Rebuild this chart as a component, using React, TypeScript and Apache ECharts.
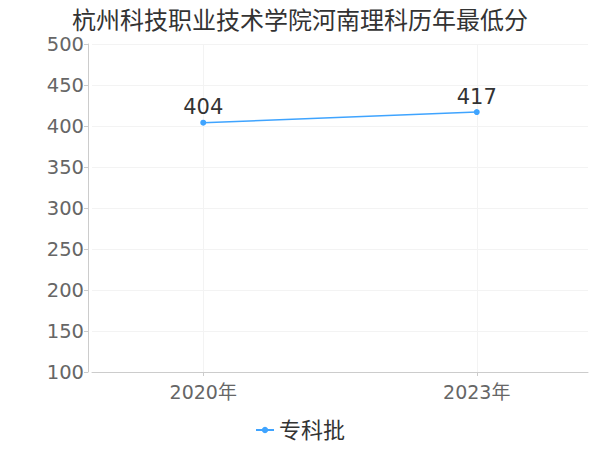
import React, { useEffect, useRef } from "react";
import * as echarts from "echarts";

const titleText = "杭州科技职业技术学院河南理科历年最低分";
const years = [2020, 2023];
const seriesName = "专科批";
const scores = [404, 417];

export default function App() {
  const ref = useRef<HTMLDivElement>(null);
  useEffect(() => {
    if (!ref.current) return;
    const chart = echarts.init(ref.current, undefined, { renderer: "svg" });
    const font = "'DejaVu Sans', 'Noto Sans CJK SC', sans-serif";
    chart.setOption({
      animation: false,
      textStyle: { fontFamily: font },
      title: {
        text: titleText,
        left: "center",
        top: 4,
        textStyle: { fontSize: 24, fontWeight: "normal", color: "#333", fontFamily: font },
      },
      legend: {
        bottom: 4,
        left: "center",
        itemWidth: 18,
        itemHeight: 8,
        itemGap: 4,
        textStyle: { fontSize: 22, color: "#333", fontFamily: font },
        data: [seriesName],
      },
      grid: { left: 92, right: 12, top: 44, bottom: 78, containLabel: false },
      xAxis: {
        type: "value",
        min: 2018.78,
        max: 2024.22,
        axisLine: { show: true, lineStyle: { color: "#ccc" } },
        axisTick: { show: true, customValues: years, length: 4, lineStyle: { color: "#ccc" } },
        axisLabel: {
          customValues: years,
          formatter: (v: number) => `${v}年`,
          fontSize: 19,
          color: "#666",
          margin: 10,
          fontFamily: font,
        },
        splitLine: { show: true, lineStyle: { color: "#f3f3f3" } },
      },
      yAxis: {
        type: "value",
        min: 100,
        max: 500,
        interval: 50,
        offset: 4,
        axisLine: { show: true, lineStyle: { color: "#ccc" } },
        axisTick: { show: true, length: 4, lineStyle: { color: "#ccc" } },
        axisLabel: { fontSize: 19.5, color: "#666", margin: 4, fontFamily: font },
        splitLine: { show: true, lineStyle: { color: "#f3f3f3" } },
      },
      series: [
        {
          name: seriesName,
          type: "line",
          data: years.map((y, i) => [y, scores[i]]),
          symbol: "circle",
          symbolSize: 6,
          itemStyle: { color: "#3fa4ff" },
          lineStyle: { color: "#3fa4ff", width: 1.5 },
          label: {
            show: true,
            position: "top",
            distance: 2,
            fontSize: 21,
            color: "#333",
            fontFamily: font,
          },
        },
      ],
    });
    return () => chart.dispose();
  }, []);
  return (
    <div
      ref={ref}
      style={{ position: "absolute", left: 0, top: 0, width: 600, height: 450 }}
    />
  );
}
